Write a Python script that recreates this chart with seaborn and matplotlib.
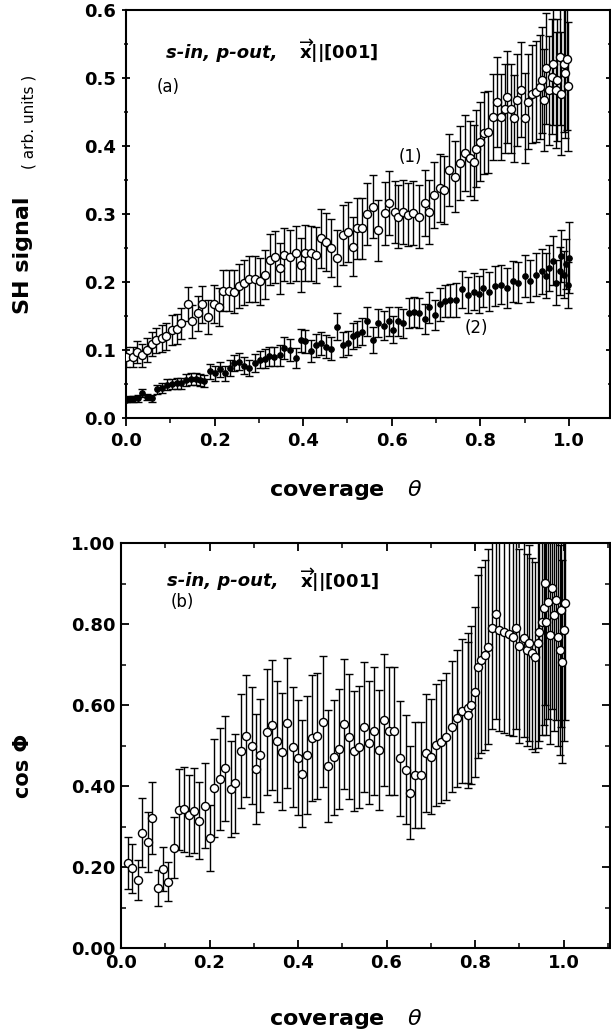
import numpy as np
import pandas as pd
import matplotlib
matplotlib.use('Agg')
import matplotlib.pyplot as plt
from matplotlib.ticker import MultipleLocator, FormatStrFormatter
import seaborn as sns

# ---- panel (a): SH signal, curve (1) open circles ----
x1 = [0.000, 0.016, 0.024, 0.037, 0.047, 0.059, 0.068, 0.082, 0.091, 0.104,
      0.115, 0.124, 0.140, 0.150, 0.163, 0.172, 0.185, 0.198, 0.209, 0.220,
      0.233, 0.244, 0.255, 0.266, 0.278, 0.291, 0.303, 0.313, 0.326, 0.337,
      0.348, 0.357, 0.370, 0.383, 0.395, 0.405, 0.418, 0.429, 0.440, 0.452,
      0.463, 0.476, 0.490, 0.501, 0.512, 0.522, 0.534, 0.545, 0.557, 0.569,
      0.585, 0.595, 0.607, 0.615, 0.626, 0.637, 0.649, 0.661, 0.675, 0.684,
      0.696, 0.708, 0.719, 0.729, 0.743, 0.754, 0.765, 0.776, 0.785, 0.790,
      0.799, 0.808, 0.818, 0.829, 0.838, 0.847, 0.857, 0.860, 0.869, 0.876,
      0.882, 0.891, 0.900, 0.908, 0.917, 0.926, 0.934, 0.939, 0.945, 0.948,
      0.956, 0.961, 0.965, 0.970, 0.974, 0.979, 0.983, 0.988, 0.992, 0.996,
      0.998]
y1 = [0.090, 0.090, 0.097, 0.092, 0.100, 0.109, 0.114, 0.117, 0.120, 0.130,
      0.131, 0.139, 0.167, 0.142, 0.154, 0.167, 0.148, 0.168, 0.163, 0.187,
      0.187, 0.186, 0.194, 0.199, 0.204, 0.204, 0.201, 0.211, 0.233, 0.237,
      0.220, 0.240, 0.237, 0.242, 0.225, 0.243, 0.242, 0.240, 0.264, 0.259,
      0.250, 0.235, 0.269, 0.274, 0.252, 0.279, 0.279, 0.300, 0.311, 0.276,
      0.301, 0.316, 0.303, 0.296, 0.303, 0.299, 0.301, 0.296, 0.316, 0.303,
      0.328, 0.338, 0.336, 0.365, 0.355, 0.375, 0.390, 0.382, 0.376, 0.396,
      0.406, 0.419, 0.421, 0.443, 0.465, 0.443, 0.455, 0.472, 0.455, 0.441,
      0.468, 0.483, 0.441, 0.465, 0.477, 0.480, 0.487, 0.497, 0.467, 0.514,
      0.482, 0.502, 0.521, 0.482, 0.497, 0.531, 0.477, 0.521, 0.507, 0.528,
      0.488]
e1 = [0.015, 0.015, 0.016, 0.017, 0.018, 0.018, 0.019, 0.020, 0.020, 0.022,
      0.022, 0.023, 0.025, 0.024, 0.026, 0.027, 0.025, 0.028, 0.028, 0.030,
      0.030, 0.031, 0.032, 0.033, 0.034, 0.034, 0.035, 0.036, 0.038, 0.038,
      0.037, 0.039, 0.039, 0.040, 0.039, 0.041, 0.041, 0.041, 0.043, 0.043,
      0.042, 0.041, 0.044, 0.044, 0.043, 0.045, 0.045, 0.046, 0.047, 0.045,
      0.046, 0.047, 0.046, 0.046, 0.047, 0.046, 0.047, 0.046, 0.048, 0.047,
      0.049, 0.050, 0.050, 0.053, 0.052, 0.054, 0.056, 0.055, 0.055, 0.057,
      0.058, 0.060, 0.060, 0.063, 0.066, 0.063, 0.065, 0.068, 0.066, 0.064,
      0.068, 0.070, 0.066, 0.070, 0.072, 0.074, 0.076, 0.078, 0.075, 0.082,
      0.080, 0.085, 0.090, 0.085, 0.090, 0.100, 0.090, 0.100, 0.095, 0.105,
      0.095]

# ---- panel (a): curve (2) filled circles ----
x2 = [0.000, 0.008, 0.016, 0.027, 0.037, 0.047, 0.058, 0.069, 0.082, 0.093,
      0.104, 0.115, 0.124, 0.136, 0.147, 0.157, 0.168, 0.177, 0.190, 0.201,
      0.212, 0.223, 0.234, 0.245, 0.256, 0.267, 0.278, 0.291, 0.303, 0.313,
      0.324, 0.335, 0.347, 0.357, 0.370, 0.385, 0.395, 0.405, 0.417, 0.430,
      0.441, 0.452, 0.463, 0.477, 0.490, 0.501, 0.512, 0.522, 0.534, 0.544,
      0.558, 0.569, 0.582, 0.593, 0.604, 0.615, 0.626, 0.640, 0.650, 0.661,
      0.676, 0.684, 0.698, 0.710, 0.720, 0.732, 0.745, 0.758, 0.772, 0.785,
      0.797, 0.807, 0.820, 0.833, 0.847, 0.860, 0.873, 0.886, 0.900, 0.913,
      0.926, 0.939, 0.948, 0.956, 0.965, 0.972, 0.979, 0.983, 0.989, 0.994,
      0.998, 1.000]
y2 = [0.027, 0.028, 0.028, 0.029, 0.037, 0.031, 0.029, 0.042, 0.044, 0.049,
      0.050, 0.051, 0.051, 0.056, 0.057, 0.057, 0.056, 0.054, 0.069, 0.066,
      0.072, 0.066, 0.074, 0.081, 0.083, 0.077, 0.074, 0.081, 0.086, 0.087,
      0.091, 0.090, 0.092, 0.103, 0.100, 0.088, 0.114, 0.113, 0.098, 0.107,
      0.110, 0.105, 0.102, 0.134, 0.108, 0.110, 0.120, 0.123, 0.127, 0.142,
      0.115, 0.140, 0.136, 0.142, 0.130, 0.142, 0.139, 0.154, 0.156, 0.155,
      0.145, 0.163, 0.152, 0.167, 0.172, 0.173, 0.173, 0.189, 0.181, 0.186,
      0.182, 0.191, 0.186, 0.194, 0.196, 0.191, 0.201, 0.199, 0.209, 0.201,
      0.211, 0.216, 0.209, 0.221, 0.231, 0.199, 0.216, 0.238, 0.211, 0.226,
      0.196, 0.236]
e2 = [0.004, 0.004, 0.004, 0.005, 0.006, 0.005, 0.005, 0.007, 0.007, 0.008,
      0.008, 0.008, 0.008, 0.009, 0.009, 0.009, 0.009, 0.009, 0.011, 0.011,
      0.011, 0.011, 0.012, 0.012, 0.013, 0.012, 0.012, 0.013, 0.013, 0.014,
      0.014, 0.014, 0.015, 0.016, 0.016, 0.015, 0.017, 0.017, 0.016, 0.017,
      0.017, 0.017, 0.017, 0.020, 0.018, 0.018, 0.019, 0.019, 0.020, 0.021,
      0.019, 0.021, 0.021, 0.021, 0.020, 0.021, 0.021, 0.022, 0.022, 0.022,
      0.022, 0.023, 0.022, 0.024, 0.024, 0.024, 0.025, 0.027, 0.026, 0.027,
      0.027, 0.028, 0.028, 0.029, 0.029, 0.029, 0.030, 0.030, 0.031, 0.031,
      0.032, 0.033, 0.033, 0.034, 0.036, 0.033, 0.035, 0.038, 0.035, 0.037,
      0.034, 0.052]

# ---- panel (b): cos Phi ----
x3 = [0.015, 0.025, 0.038, 0.047, 0.060, 0.070, 0.083, 0.095, 0.107, 0.119,
      0.130, 0.142, 0.154, 0.165, 0.176, 0.189, 0.202, 0.211, 0.224, 0.235,
      0.248, 0.258, 0.271, 0.282, 0.295, 0.306, 0.315, 0.330, 0.341, 0.352,
      0.363, 0.376, 0.389, 0.399, 0.410, 0.421, 0.432, 0.443, 0.457, 0.467,
      0.481, 0.492, 0.503, 0.516, 0.527, 0.538, 0.549, 0.560, 0.571, 0.583,
      0.595, 0.606, 0.618, 0.630, 0.643, 0.652, 0.665, 0.678, 0.690, 0.700,
      0.712, 0.722, 0.734, 0.747, 0.760, 0.771, 0.783, 0.785, 0.791, 0.800,
      0.806, 0.813, 0.822, 0.830, 0.839, 0.848, 0.855, 0.866, 0.877, 0.886,
      0.893, 0.900, 0.910, 0.917, 0.923, 0.928, 0.935, 0.942, 0.945, 0.951,
      0.955, 0.958, 0.961, 0.966, 0.970, 0.975, 0.979, 0.983, 0.988, 0.991,
      0.995, 0.997, 1.000, 1.003]
y3 = [0.210, 0.197, 0.168, 0.285, 0.262, 0.321, 0.148, 0.195, 0.164, 0.248,
      0.341, 0.343, 0.328, 0.339, 0.314, 0.351, 0.272, 0.395, 0.417, 0.444,
      0.393, 0.407, 0.486, 0.523, 0.500, 0.442, 0.476, 0.533, 0.551, 0.510,
      0.485, 0.555, 0.496, 0.470, 0.430, 0.476, 0.518, 0.524, 0.559, 0.450,
      0.471, 0.491, 0.553, 0.522, 0.487, 0.496, 0.546, 0.507, 0.536, 0.489,
      0.563, 0.536, 0.536, 0.469, 0.440, 0.383, 0.427, 0.427, 0.482, 0.472,
      0.501, 0.509, 0.522, 0.546, 0.567, 0.586, 0.592, 0.575, 0.600, 0.633,
      0.695, 0.711, 0.723, 0.744, 0.790, 0.825, 0.785, 0.781, 0.775, 0.769,
      0.790, 0.746, 0.765, 0.736, 0.753, 0.728, 0.719, 0.753, 0.781, 0.806,
      0.840, 0.901, 0.806, 0.855, 0.773, 0.889, 0.822, 0.859, 0.769, 0.736,
      0.835, 0.707, 0.785, 0.852]
e3 = [0.065, 0.060, 0.050, 0.085, 0.075, 0.090, 0.045, 0.055, 0.048, 0.075,
      0.100, 0.105, 0.100, 0.105, 0.095, 0.105, 0.082, 0.120, 0.125, 0.130,
      0.118, 0.122, 0.140, 0.150, 0.145, 0.135, 0.140, 0.155, 0.160, 0.150,
      0.145, 0.160, 0.148, 0.142, 0.132, 0.145, 0.155, 0.155, 0.162, 0.138,
      0.142, 0.148, 0.160, 0.155, 0.148, 0.150, 0.160, 0.152, 0.158, 0.148,
      0.162, 0.158, 0.158, 0.142, 0.135, 0.115, 0.130, 0.130, 0.145, 0.142,
      0.150, 0.152, 0.156, 0.162, 0.170, 0.178, 0.185, 0.180, 0.195, 0.210,
      0.225, 0.230, 0.235, 0.240, 0.250, 0.260, 0.250, 0.250, 0.248, 0.245,
      0.250, 0.240, 0.245, 0.238, 0.242, 0.236, 0.234, 0.260, 0.270, 0.280,
      0.290, 0.300, 0.280, 0.290, 0.270, 0.300, 0.285, 0.295, 0.270, 0.260,
      0.290, 0.250, 0.275, 0.290]

top_df = pd.concat([
    pd.DataFrame({'coverage': x1, 'signal': y1, 'err': e1, 'curve': '(1)'}),
    pd.DataFrame({'coverage': x2, 'signal': y2, 'err': e2, 'curve': '(2)'}),
])
bot_df = pd.DataFrame({'coverage': x3, 'cosphi': y3, 'err': e3})

sns.set_style('ticks')
plt.rcParams['font.family'] = ['DejaVu Sans']
plt.rcParams['mathtext.fontset'] = 'dejavusans'
# pure black ink like the printed figure
plt.rcParams['text.color'] = 'black'
plt.rcParams['axes.labelcolor'] = 'black'
plt.rcParams['axes.edgecolor'] = 'black'
plt.rcParams['xtick.color'] = 'black'
plt.rcParams['ytick.color'] = 'black'

fig = plt.figure(figsize=(6.11, 10.36), dpi=100)
ax1 = fig.add_axes([126 / 611, 1 - 418 / 1036, 484 / 611, 408 / 1036])
ax2 = fig.add_axes([121 / 611, 1 - 948 / 1036, 489 / 611, 405 / 1036])

ebkw = dict(fmt='none', ecolor='black', elinewidth=1.0, capsize=2.8, capthick=1.0, zorder=2)

# panel (a)
d1 = top_df[top_df['curve'] == '(1)']
d2 = top_df[top_df['curve'] == '(2)']
ax1.errorbar(d1['coverage'], d1['signal'], yerr=d1['err'], **ebkw)
ax1.errorbar(d2['coverage'], d2['signal'], yerr=d2['err'], **ebkw)
sns.scatterplot(data=d1, x='coverage', y='signal', ax=ax1, marker='o', s=34,
                color='white', edgecolor='black', linewidth=1.0, zorder=3, legend=False)
sns.scatterplot(data=d2, x='coverage', y='signal', ax=ax1, marker='o', s=16,
                color='black', edgecolor='black', linewidth=0.8, zorder=3, legend=False)

# panel (b)
ax2.errorbar(bot_df['coverage'], bot_df['cosphi'], yerr=bot_df['err'], **ebkw)
sns.scatterplot(data=bot_df, x='coverage', y='cosphi', ax=ax2, marker='o', s=34,
                color='white', edgecolor='black', linewidth=1.0, zorder=3, legend=False)

ax1.set_xlim(0, 1.093)
ax1.set_ylim(0, 0.6)
ax1.set_xticks([0, 0.2, 0.4, 0.6, 0.8, 1.0])
ax1.xaxis.set_minor_locator(MultipleLocator(0.1))
ax1.yaxis.set_major_locator(MultipleLocator(0.1))
ax1.yaxis.set_minor_locator(MultipleLocator(0.05))
ax1.xaxis.set_major_formatter(FormatStrFormatter('%.1f'))
ax1.yaxis.set_major_formatter(FormatStrFormatter('%.1f'))
ax1.tick_params(axis='x', which='both', direction='out', top=False)
ax1.tick_params(axis='y', which='both', direction='inout', right=True)

ax2.set_xlim(0, 1.105)
ax2.set_ylim(0, 1.0)
ax2.set_xticks([0, 0.2, 0.4, 0.6, 0.8, 1.0])
ax2.xaxis.set_minor_locator(MultipleLocator(0.1))
ax2.yaxis.set_major_locator(MultipleLocator(0.2))
ax2.yaxis.set_minor_locator(MultipleLocator(0.1))
ax2.xaxis.set_major_formatter(FormatStrFormatter('%.1f'))
ax2.yaxis.set_major_formatter(FormatStrFormatter('%.2f'))
ax2.tick_params(axis='both', which='both', direction='in', top=True, right=True)

for ax in (ax1, ax2):
    for sp in ax.spines.values():
        sp.set_linewidth(1.5)
        sp.set_color('black')
        sp.set_visible(True)
    ax.tick_params(which='major', length=6, width=1.3, labelsize=13, pad=4)
    ax.tick_params(which='minor', length=3.5, width=1.1)
    for lab in ax.get_xticklabels() + ax.get_yticklabels():
        lab.set_fontweight('bold')

ax1.set_xlabel('coverage   $\\theta$', fontsize=16, fontweight='bold')
ax1.xaxis.set_label_coords(0.455, -0.148)
ax1.set_ylabel('SH signal', fontsize=16, fontweight='bold')
ax1.yaxis.set_label_coords(-0.192, 0.40)
fig.text(29 / 611, 1 - 122 / 1036, '( arb. units )', rotation=90, fontsize=11,
         ha='center', va='center')

ax2.set_xlabel('coverage   $\\theta$', fontsize=16, fontweight='bold')
ax2.xaxis.set_label_coords(0.46, -0.146)
ax2.set_ylabel('cos Φ', fontsize=15, fontweight='bold')
ax2.yaxis.set_label_coords(-0.18, 0.45)

arrow_x = '$\\overrightarrow{\\mathbf{x}}$||[001]'
ax1.text(0.09, 0.537, 's-in, p-out,', fontsize=13, fontweight='bold', style='italic', va='center')
ax1.text(0.39, 0.540, arrow_x, fontsize=13, fontweight='bold', va='center')
ax1.text(0.07, 0.487, '(a)', fontsize=12, va='center')
ax1.text(0.615, 0.384, '(1)', fontsize=12, va='center')
ax1.text(0.765, 0.132, '(2)', fontsize=12, va='center')

ax2.text(0.105, 0.905, 's-in, p-out,', fontsize=13, fontweight='bold', style='italic', va='center')
ax2.text(0.405, 0.909, arrow_x, fontsize=13, fontweight='bold', va='center')
ax2.text(0.113, 0.855, '(b)', fontsize=12, va='center')

fig.savefig('out.png', dpi=100)
